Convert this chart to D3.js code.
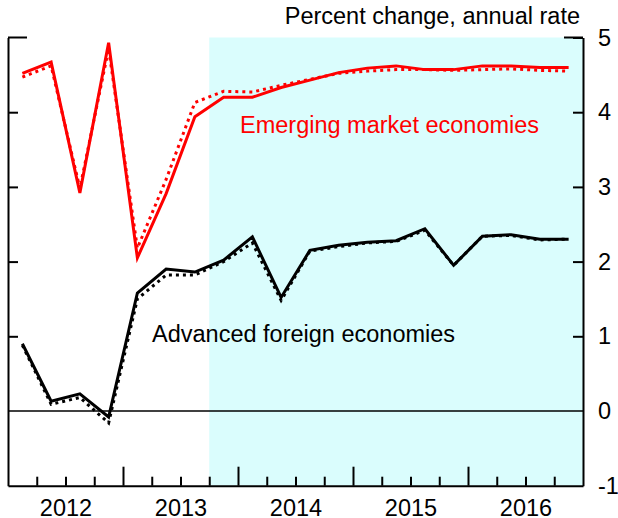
<!DOCTYPE html>
<html>
<head>
<meta charset="utf-8">
<script src="https://cdn.jsdelivr.net/npm/d3@7"></script>
<style>
  body { margin: 0; background: #fff; }
  svg { display: block; font-family: Arial, "Liberation Sans", sans-serif; }
  .axis text { font-size: 23.5px; fill: #000; }
  .axis path, .axis line { stroke: #000; stroke-width: 2; }
</style>
</head>
<body>
<svg id="chart"></svg>
<script>
// quarterly observations, plotted at the middle of each quarter
const quarters = [
    "2012Q1", "2012Q2", "2012Q3", "2012Q4",
    "2013Q1", "2013Q2", "2013Q3", "2013Q4",
    "2014Q1", "2014Q2", "2014Q3", "2014Q4",
    "2015Q1", "2015Q2", "2015Q3", "2015Q4",
    "2016Q1", "2016Q2", "2016Q3", "2016Q4"
];

const emergingSolid = [4.52, 4.67, 2.92, 4.93, 2.05, 2.91, 3.94, 4.20, 4.20, 4.33,
                       4.43, 4.53, 4.59, 4.62, 4.57, 4.57, 4.62, 4.62, 4.60, 4.60];
const emergingDotted = [4.47, 4.62, 2.98, 4.85, 2.18, 3.10, 4.13, 4.28, 4.27, 4.36,
                        4.44, 4.52, 4.55, 4.57, 4.57, 4.56, 4.57, 4.58, 4.56, 4.55];

const advancedSolid = [0.90, 0.13, 0.23, -0.08, 1.58, 1.90, 1.86, 2.02, 2.33, 1.52,
                       2.15, 2.22, 2.26, 2.28, 2.44, 1.95, 2.34, 2.36, 2.30, 2.30];
const advancedDotted = [0.88, 0.09, 0.18, -0.16, 1.50, 1.82, 1.82, 2.00, 2.25, 1.48,
                        2.14, 2.20, 2.25, 2.27, 2.42, 1.95, 2.34, 2.35, 2.29, 2.30];

const yearLabels = ["2012", "2013", "2014", "2015", "2016"];
const yTicks = [-1, 0, 1, 2, 3, 4, 5];
const shadeFrom = "2013Q4";

const unitsLabel = "Percent change, annual rate";
const emergingLabel = "Emerging market economies";
const advancedLabel = "Advanced foreign economies";

// "2013Q2" -> 2013.25 (start of the quarter)
function quarterStart(q) {
    return +q.slice(0, 4) + (+q.slice(5) - 1) / 4;
}

const W = 618, H = 518;
const plotLeft = 8, plotRight = 583, plotTop = 37.5, plotBottom = 485.7;
const fontSize = 23.5;

const svg = d3.select('#chart').attr('width', W).attr('height', H);

const x = d3.scaleLinear()
    .domain([+yearLabels[0], +yearLabels[yearLabels.length - 1] + 1])
    .range([plotLeft, plotRight]);

const y = d3.scaleLinear()
    .domain([-1, 5])
    .range([plotBottom, plotTop]);

// shaded projection period
svg.append('rect')
    .attr('x', x(quarterStart(shadeFrom)))
    .attr('y', y(5))
    .attr('width', x.range()[1] - x(quarterStart(shadeFrom)))
    .attr('height', y(-1) - y(5))
    .attr('fill', '#dafdfd');

// zero line
svg.append('line')
    .attr('x1', x.range()[0]).attr('x2', x.range()[1])
    .attr('y1', y(0)).attr('y2', y(0))
    .attr('stroke', '#000')
    .attr('stroke-width', 1.5);

// left axis: ticks only
svg.append('g')
    .attr('class', 'axis')
    .attr('transform', `translate(${plotLeft},0)`)
    .call(d3.axisLeft(y).tickValues([1, 2, 3, 4]).tickSizeInner(-10).tickSizeOuter(0).tickFormat(''));

// right axis with labels (plain hyphen for the minus sign)
svg.append('g')
    .attr('class', 'axis')
    .attr('transform', `translate(${plotRight},0)`)
    .call(d3.axisRight(y).tickValues(yTicks).tickSizeInner(-10).tickSizeOuter(0).tickPadding(15).tickFormat(d => String(d)))
    .call(g => g.selectAll('.tick line').filter(d => d === 0 || d === -1).remove());

// top corner ticks
[[plotLeft, plotLeft + 19], [plotRight - 19, plotRight]].forEach(([a, b]) => {
    svg.append('line')
        .attr('x1', a).attr('x2', b)
        .attr('y1', y(5)).attr('y2', y(5))
        .attr('stroke', '#000').attr('stroke-width', 2);
});

// bottom axis: quarter ticks, longer at year boundaries
const quarterTicks = quarters.map(quarterStart).filter(v => v > x.domain()[0]);
svg.append('g')
    .attr('class', 'axis')
    .attr('transform', `translate(0,${plotBottom})`)
    .call(d3.axisBottom(x).tickValues(quarterTicks).tickSizeInner(-9).tickSizeOuter(0).tickFormat(''))
    .call(g => g.selectAll('.tick line').filter(d => Number.isInteger(d)).attr('y2', -19));

svg.append('g')
    .attr('class', 'axis')
    .attr('transform', `translate(0,${plotBottom})`)
    .call(d3.axisBottom(x).tickValues(yearLabels.map(d => +d + 0.5)).tickSize(0).tickPadding(14)
        .tickFormat((d, i) => yearLabels[i]))
    .call(g => g.select('.domain').remove());

// series
const line = d3.line()
    .x((d, i) => x(quarterStart(quarters[i]) + 0.125))
    .y(d => y(d));

const series = [
    { values: emergingDotted, color: '#ff0000', dash: '3,4' },
    { values: emergingSolid, color: '#ff0000', dash: null },
    { values: advancedDotted, color: '#000000', dash: '3,4' },
    { values: advancedSolid, color: '#000000', dash: null }
];

svg.selectAll('.series')
    .data(series)
    .enter().append('path')
    .attr('class', 'series')
    .attr('d', d => line(d.values))
    .attr('fill', 'none')
    .attr('stroke', d => d.color)
    .attr('stroke-width', 3)
    .attr('stroke-dasharray', d => d.dash);

// labels
svg.append('text')
    .attr('x', 580).attr('y', 24)
    .attr('text-anchor', 'end')
    .attr('font-size', fontSize)
    .text(unitsLabel);

svg.append('text')
    .attr('x', 240).attr('y', 133)
    .attr('font-size', fontSize)
    .attr('fill', '#ff0000')
    .text(emergingLabel);

svg.append('text')
    .attr('x', 152).attr('y', 342)
    .attr('font-size', fontSize)
    .attr('fill', '#000')
    .text(advancedLabel);
</script>
</body>
</html>
